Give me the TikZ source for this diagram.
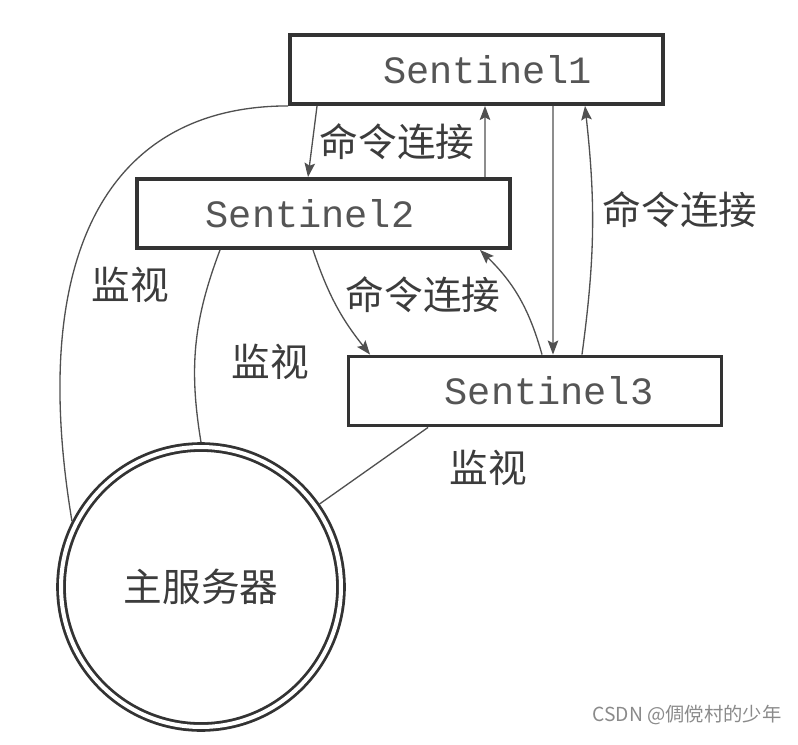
\documentclass[tikz,border=0pt]{standalone}
\usepackage{fontspec}
\setmonofont{Liberation Mono}
\newfontfamily\cjk{Noto Sans CJK SC}
\usetikzlibrary{arrows.meta, positioning}
\definecolor{cdark}{HTML}{333333}
\definecolor{cline}{HTML}{505050}
\definecolor{ctext}{HTML}{3C3C3C}
\definecolor{cmono}{HTML}{555555}
\definecolor{cmark}{HTML}{8A8A8A}
\tikzset{
  every picture/.style={line width=0.75pt},
  sentinel/.style={draw=cdark, line width=2.2pt, fill=white, minimum width=7.46cm, minimum height=1.38cm, inner sep=0pt, font=\ttfamily\fontsize{22}{24}\selectfont, text=cmono},
  master/.style={circle, draw=cdark, line width=1.6pt, double=white, double distance=2.3pt, minimum size=5.6cm, outer sep=2.75pt, font=\cjk\fontsize{22}{24}\selectfont, text=ctext},
  link/.style={-{Stealth[length=8pt, width=6pt, inset=1.5pt]}, draw=cline},
  watch/.style={draw=cline},
  lbl/.style={font=\cjk\fontsize{22}{24}\selectfont, text=ctext, inner sep=0pt},
  wmark/.style={font=\cjk\fontsize{11}{12}\selectfont, text=cmark, inner sep=0pt},
}

\begin{document}
\begin{tikzpicture}[x=0.02cm, y=-0.02cm]
  \useasboundingbox (0,0) rectangle (798,744);
  \node[sentinel] (s1) at (476.5,69.5) {\hspace*{0.44cm}Sentinel1};
  \node[sentinel] (s2) at (323.5,213.5) {Sentinel2\hspace*{0.54cm}};
  \node[sentinel] (s3) at (535,391) {\hspace*{0.56cm}Sentinel3};
  \node[master] (m) at (201,587) {主服务器};
  % command links
  \draw[link] ([xshift=-3.19cm]s1.south) -- ([xshift=-0.31cm]s2.north);
  \draw[link] ([xshift=3.23cm]s2.north) -- ([xshift=0.17cm]s1.south);
  \draw[link] ([xshift=1.53cm]s1.south) -- ([xshift=0.36cm]s3.north);
  \draw[link] ([xshift=0.94cm]s3.north) to[bend right=7] ([xshift=2.17cm]s1.south);
  \draw[link] ([xshift=-0.21cm]s2.south) to[bend right=10] ([xshift=-3.3cm]s3.north);
  \draw[link] ([xshift=0.14cm]s3.north) to[bend right=15] ([xshift=3.13cm]s2.south);
  % monitoring
  \draw[watch] (s1.south west) .. controls +(-178,0) and +(-45,-270) .. (m.153);
  \draw[watch] ([xshift=-2.07cm]s2.south) to[bend right=15] (m.90);
  \draw[watch] ([xshift=-2.14cm]s3.south) -- (m.35);
  % labels
  \node[lbl] (c12) at (397,142) {命令连接};
  \node[lbl] (c13) at (680,210) {命令连接};
  \node[lbl] (c23) at (423,295) {命令连接};
  \node[lbl] (w1) at (130,285) {监视};
  \node[lbl] (w2) at (270,362) {监视};
  \node[lbl] (w3) at (488,468) {监视};
  \node[wmark] (wm) at (687,715) {CSDN @倜傥村的少年};
\end{tikzpicture}
\end{document}
